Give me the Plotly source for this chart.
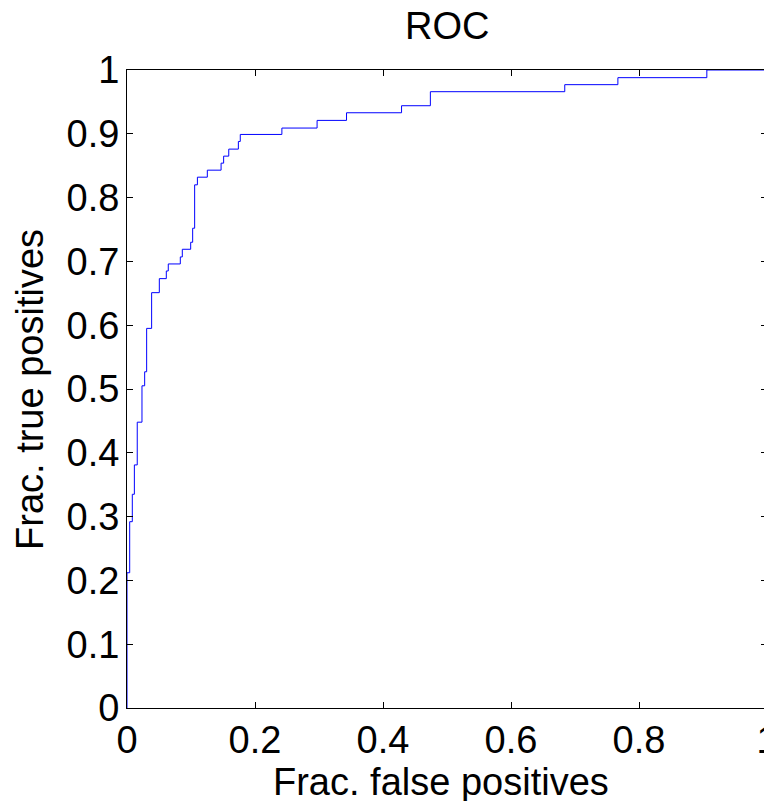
import plotly.graph_objects as go

# ROC curve vertices (false positive fraction, true positive fraction)
fpr = [0.0, 0.0, 0.0042, 0.0083, 0.0115, 0.016, 0.0234, 0.0276, 0.0307,
       0.0385, 0.0505, 0.0614, 0.0645, 0.0833, 0.0864, 0.0995, 0.1026,
       0.1057, 0.110, 0.1255, 0.147, 0.151, 0.159, 0.174, 0.177, 0.242,
       0.297, 0.343, 0.429, 0.474, 0.684, 0.767, 0.906, 1.0]
tpr = [0.0, 0.212, 0.292, 0.335, 0.381, 0.448, 0.505, 0.527, 0.595,
       0.651, 0.673, 0.685, 0.696, 0.707, 0.719, 0.730, 0.752,
       0.820, 0.832, 0.843, 0.854, 0.865, 0.876, 0.888, 0.899, 0.909,
       0.921, 0.933, 0.944, 0.966, 0.977, 0.988, 1.0, 1.0]

x_ticks = [0, 0.2, 0.4, 0.6, 0.8, 1]
x_tick_labels = ["0", "0.2", "0.4", "0.6", "0.8", "1"]
y_ticks = [0, 0.1, 0.2, 0.3, 0.4, 0.5, 0.6, 0.7, 0.8, 0.9, 1]
y_tick_labels = ["0", "0.1", "0.2", "0.3", "0.4", "0.5", "0.6", "0.7", "0.8", "0.9", "1"]

FONT = "Liberation Sans, Arial, Helvetica, sans-serif"
FS = 38

fig = go.Figure()
fig.add_trace(go.Scatter(
    x=fpr, y=tpr, mode="lines", line=dict(color="#0000FF", width=1, shape="hv"),
    hoverinfo="skip", showlegend=False, cliponaxis=False,
))

axis_common = dict(
    range=[0, 1], showgrid=False, zeroline=False, showline=True,
    linecolor="black", linewidth=1, mirror="ticks", ticks="inside",
    ticklen=6, tickwidth=1, tickcolor="black",
    tickfont=dict(family=FONT, size=FS, color="black"),
    ticklabeloverflow="allow",
    fixedrange=True,
)

# page has an 8px body margin, so the figure is sized to fill the rest
fig.update_layout(
    width=764, height=793,
    margin=dict(l=119, r=5, t=62, b=93, autoexpand=False),
    paper_bgcolor="white", plot_bgcolor="white",
    xaxis=dict(axis_common, tickvals=x_ticks, ticktext=x_tick_labels,
               ticklabelstandoff=-2),
    yaxis=dict(axis_common, tickvals=y_ticks, ticktext=y_tick_labels,
               ticklabelstandoff=-1),
    annotations=[
        dict(text="ROC", xref="paper", yref="paper", x=0.5, y=1.069,
             xanchor="center", yanchor="middle", showarrow=False,
             font=dict(family=FONT, size=FS, color="black")),
        dict(text="Frac. false positives", xref="paper", yref="paper",
             x=0.49, y=-0.116, xanchor="center", yanchor="middle",
             showarrow=False, font=dict(family=FONT, size=FS, color="black")),
        dict(text="Frac. true positives", xref="paper", yref="paper",
             x=-0.1516, y=0.5, xanchor="center", yanchor="middle",
             textangle=-90, showarrow=False,
             font=dict(family=FONT, size=FS, color="black")),
    ],
)

fig.write_html("out.html")
